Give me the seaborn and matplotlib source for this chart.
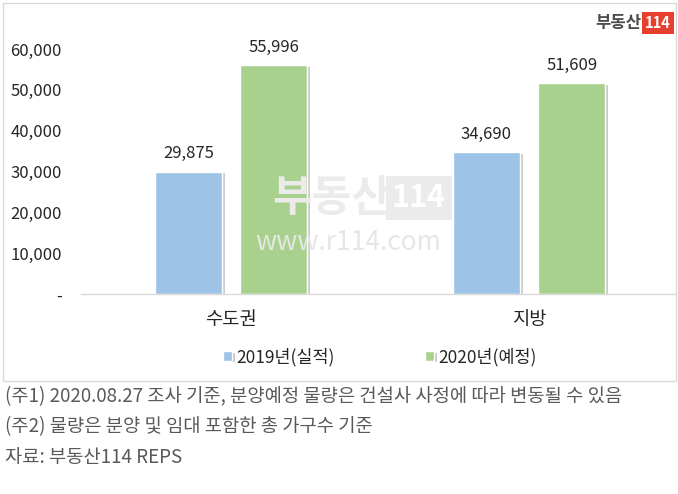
import matplotlib
matplotlib.use("Agg")
import matplotlib.pyplot as plt
import matplotlib.patheffects as pe
from matplotlib.patches import Rectangle
import seaborn as sns
import pandas as pd

regions = ["수도권", "지방"]
series_names = ["2019년(실적)", "2020년(예정)"]
values_2019 = [29875, 34690]
values_2020 = [55996, 51609]
ytick_values = [0, 10000, 20000, 30000, 40000, 50000, 60000]
ytick_labels = ["-", "10,000", "20,000", "30,000", "40,000", "50,000", "60,000"]
notes = ["(주1) 2020.08.27 조사 기준, 분양예정 물량은 건설사 사정에 따라 변동될 수 있음",
         "(주2) 물량은 분양 및 임대 포함한 총 가구수 기준",
         "자료: 부동산114 REPS"]

df = pd.DataFrame({
    "region": regions * 2,
    "year": [series_names[0]] * 2 + [series_names[1]] * 2,
    "value": values_2019 + values_2020,
})

sns.set_theme(style="white")
plt.rcParams["font.family"] = ["Noto Sans CJK KR", "DejaVu Sans"]

W, H = 678, 494
fig = plt.figure(figsize=(W / 100, H / 100), dpi=100)

# chart border box
fig.patches.append(Rectangle((3 / W, 1 - 381 / H), 673 / W, 378 / H, transform=fig.transFigure,
                             fill=False, edgecolor="#D9D9D9", linewidth=1.0))

ax = fig.add_axes([81 / W, 1 - 294 / H, (676 - 81) / W, (294 - 49) / H])
palette = ["#9DC3E6", "#A9D18E"]
sns.barplot(data=df, x="region", y="value", hue="year", palette=palette, ax=ax,
            width=0.572, gap=0.213, saturation=1, legend=True)

for patch in ax.patches:
    patch.set_path_effects([pe.SimplePatchShadow(offset=(2, -1), shadow_rgbFace="#999999", alpha=0.5), pe.Normal()])

for cont in ax.containers:
    ax.bar_label(cont, labels=[f"{v:,.0f}" for v in cont.datavalues], padding=7,
                 fontsize=12, color="#262626")

ax.set_xlim(-0.503, 1.493)
ax.set_ylim(0, 60000)
ax.set_yticks(ytick_values)
ax.set_yticklabels(ytick_labels, fontsize=12, color="#262626")
ax.tick_params(axis="y", length=0, pad=14)
ax.tick_params(axis="x", length=0, pad=11, labelsize=13.5, labelcolor="#262626")
ax.set_xlabel("")
ax.set_ylabel("")
for s in ["top", "right", "left"]:
    ax.spines[s].set_visible(False)
ax.spines["bottom"].set_color("#D9D9D9")
ax.spines["bottom"].set_linewidth(1.0)
ax.grid(False)

leg = ax.legend(loc="center", bbox_to_anchor=(380 / W, 1 - 357 / H), bbox_transform=fig.transFigure,
                ncol=2, frameon=False, fontsize=12.5, handlelength=0.5, handleheight=0.5,
                handletextpad=0.25, columnspacing=5.2)
for t in leg.get_texts():
    t.set_color("#262626")

# watermark
fig.text(332 / W, 1 - 198 / H, "부동산", fontsize=31, fontweight="bold", color="#EBEBEB",
         ha="center", va="center", zorder=0.5)
fig.text(419 / W, 1 - 198 / H, "114", fontsize=22, fontweight="bold", color="white",
         ha="center", va="center",
         bbox=dict(boxstyle="square,pad=0.2", facecolor="#EBEBEB", edgecolor="none"))
fig.text(348 / W, 1 - 242 / H, "www.r114.com", fontsize=19, color="#E6E6E6",
         ha="center", va="center")

# logo top right
fig.text(641 / W, 1 - 23 / H, "부동산", fontsize=12, fontweight="bold", color="#4D4D4D",
         ha="right", va="center")
fig.text(658 / W, 1 - 23 / H, "114", fontsize=10.5, fontweight="bold", color="white",
         ha="center", va="center",
         bbox=dict(boxstyle="square,pad=0.2", facecolor="#E8402E", edgecolor="none"))

for i, n in enumerate(notes):
    fig.text(5 / W, 1 - (397 + 30 * i) / H, n, fontsize=13.5, color="#595959",
             ha="left", va="center")

fig.savefig("out.png", dpi=100)
